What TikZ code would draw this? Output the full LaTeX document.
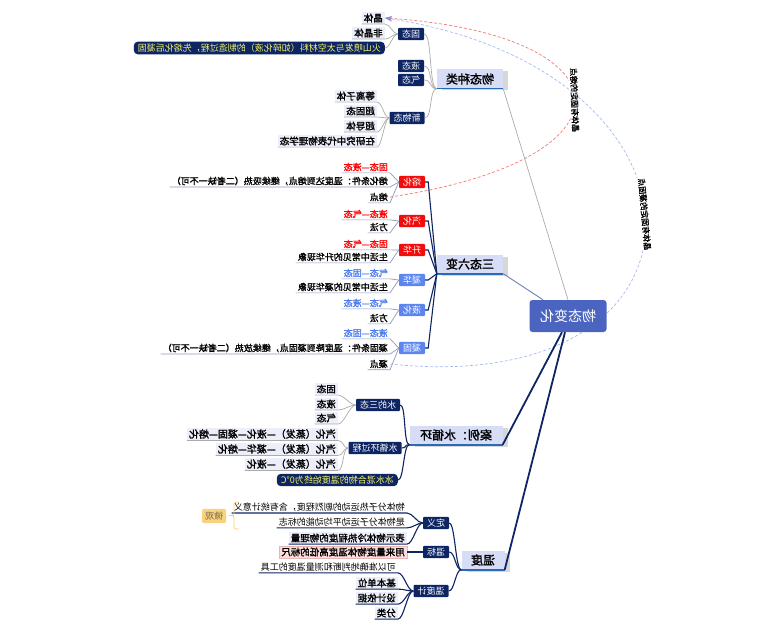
\documentclass[tikz,border=0pt]{standalone}
\usepackage{fontspec}
\setmainfont{Noto Sans CJK SC}[AutoFakeBold=1.6]
\usepackage{graphicx}
\usepackage{tikz}
\usetikzlibrary{positioning, arrows.meta, calc, shadows}
\pgfdeclarelayer{background}
\pgfsetlayers{background,main}
\definecolor{rootblue}{HTML}{4A64C0}
\definecolor{branchfill}{HTML}{D7DDF7}
\definecolor{branchline}{HTML}{2A6BB8}
\definecolor{navy}{HTML}{0E2563}
\definecolor{hotred}{HTML}{F20D0D}
\definecolor{skyblue}{HTML}{5C86EE}
\definecolor{leaffill}{HTML}{ECEEFA}
\definecolor{leafline}{HTML}{8C98BC}
\definecolor{linegrey}{HTML}{ABABAB}
\definecolor{lemon}{HTML}{F4F46A}
\definecolor{pinkfill}{HTML}{FCDCDC}
\definecolor{pinkline}{HTML}{E8B4B4}
\definecolor{goldfill}{HTML}{F8D27C}
\definecolor{goldtext}{HTML}{7A6A50}
\definecolor{redtext}{HTML}{FF0000}
\definecolor{bluetext}{HTML}{4C7CEC}
\definecolor{dashred}{HTML}{F07878}
\definecolor{dashblue}{HTML}{A6B8F2}
\definecolor{tippurple}{HTML}{8A8AE0}
\definecolor{slate}{HTML}{6C80B4}
\newcommand{\SizeAt}[1]{\fontsize{#1}{#1}\selectfont}
\newsavebox{\FlipBox}
\tikzset{
    mirrored/.style={execute at begin node={\begin{lrbox}{\FlipBox}},
                     execute at end node={\end{lrbox}\reflectbox{\usebox{\FlipBox}}}},
    rootbox/.style={fill=rootblue, text=white, rounded corners=3pt, font=\SizeAt{14pt}, minimum width=77pt, minimum height=32pt},
    branch/.style={fill=branchfill, font=\SizeAt{12pt}\bfseries, minimum width=66pt, minimum height=19pt, inner sep=2pt,
                   drop shadow={shadow xshift=5pt, shadow yshift=-2pt, fill=black!45, opacity=0.35}},
    darkbox/.style={fill=navy, text=white, font=\SizeAt{9pt}, inner xsep=4pt, inner ysep=2pt, rounded corners=1pt},
    redbox/.style={darkbox, fill=hotred},
    bluebox/.style={darkbox, fill=skyblue},
    yellowbox/.style={darkbox, anchor=east, text=lemon, rounded corners=4pt},
    leafbox/.style={anchor=east, fill=leaffill, font=\SizeAt{9.5pt}\bfseries, inner xsep=2pt, inner ysep=1.5pt},
    leaf/.style={anchor=east, font=\SizeAt{9pt}, inner xsep=2pt, inner ysep=1.5pt},
    boldleaf/.style={leaf, font=\SizeAt{9pt}\bfseries},
    redleaf/.style={boldleaf, text=redtext},
    blueleaf/.style={boldleaf, text=bluetext},
    pinkbox/.style={leafbox, fill=pinkfill, draw=pinkline, line width=0.5pt},
    goldbox/.style={fill=goldfill, text=goldtext, rounded corners=2pt, font=\SizeAt{9pt}, inner xsep=3pt, inner ysep=3pt},
    greyline/.style={draw=linegrey, line width=0.7pt},
    thinline/.style={draw=leafline, line width=0.7pt},
    navyline/.style={draw=navy, line width=1.1pt},
    slateline/.style={draw=slate, line width=0.9pt},
    navythick/.style={draw=navy, line width=1.8pt},
    underbar/.style={draw=branchline, line width=1.6pt},
    curvelabel/.style={fill=white, text=black, font=\SizeAt{8pt}\bfseries, inner sep=1pt},
}

\begin{document}
\begin{tikzpicture}[x=1pt, y=-1pt, every node/.append style={mirrored}]
    \useasboundingbox (0,0) rectangle (760,631);

    % centre and main branches
    \node[rootbox] (root) at (568,316) {物态变化};
    \node[branch] (kinds) at (470,79) {物态种类};
    \node[branch] (change) at (470,264) {三态六变};
    \node[branch, minimum width=93pt] (water) at (456,435) {案例：水循环};
    \node[branch, minimum width=43pt] (temp) at (483,560) {温度};
    \foreach \b in {kinds, change, water, temp}
        \draw[underbar] (\b.south west) -- (\b.south east);

    \draw[greyline] (root.north) -- (kinds.south east);
    \draw[slateline] ($(root.north)+(-25,0)$) -- (change.south east);
    \draw[navythick] ($(root.south)+(-6,0)$) -- (water.south east);
    \draw[navythick] ($(root.south)+(-3,0)$) -- (temp.south east);

    % kinds of states
    \node[darkbox] (solid) at (411,34) {固态};
    \node[darkbox] (liquid) at (411,66) {液态};
    \node[darkbox] (gas) at (411,80) {气态};
    \node[darkbox] (newstate) at (407,118) {新物态};
    \node[leafbox] (crystal) at (385,18) {晶体};
    \node[leafbox] (amorph) at (385,33) {非晶体};
    \node[yellowbox] (volcano) at (385,48) {火山喷发与太空材料（如碎化液）的制造过程，先熔化后凝固};
    \node[leafbox] (plasma) at (377,96) {等离子体};
    \node[leafbox] (supersolid) at (377,111) {超固态};
    \node[leafbox] (superfluid) at (377,126) {超导体};
    \node[leafbox] (research) at (377,141) {在研究中代表物理学态};

    \foreach \c in {solid, liquid, gas, newstate}
        \draw[greyline] (kinds.south west) .. controls +(-8,0) and +(8,0) .. (\c.east);
    \foreach \c in {crystal, amorph}
        \draw[greyline] (solid.west) .. controls +(-5,0) and +(5,0) .. (\c.south east) -- (\c.south west);
    \draw[greyline] (solid.west) .. controls +(-5,0) and +(5,0) .. (volcano.east);
    \foreach \c in {plasma, supersolid, superfluid, research}
        \draw[greyline] (newstate.west) .. controls +(-5,0) and +(5,0) .. (\c.south east) -- (\c.south west);

    % three states, six changes
    \node[redbox] (melt) at (412,182) {熔化};
    \node[redbox] (vapor) at (412,221) {汽化};
    \node[redbox] (sublim) at (412,250) {升华};
    \node[bluebox] (desub) at (412,280) {凝华};
    \node[bluebox] (liquefy) at (412,310) {液化};
    \node[bluebox] (freeze) at (412,348) {凝固};
    \foreach \c in {melt, vapor, sublim, desub, liquefy, freeze}
        \draw[navyline] (\c.east) -- ++(3,0) -- (change.south west);

    \node[redleaf] (meltA) at (390,167) {固态—液态};
    \node[boldleaf] (meltB) at (390,181) {熔化条件：温度达到熔点，继续吸热（二者缺一不可）};
    \node[boldleaf] (meltC) at (390,197) {熔点};
    \node[redleaf] (vaporA) at (390,214) {液态—气态};
    \node[boldleaf] (vaporB) at (390,227) {方法};
    \node[redleaf] (sublimA) at (390,244) {固态—气态};
    \node[boldleaf] (sublimB) at (390,257) {生活中常见的升华现象};
    \node[blueleaf] (desubA) at (390,273) {气态—固态};
    \node[boldleaf] (desubB) at (390,287) {生活中常见的凝华现象};
    \node[blueleaf] (liquefyA) at (390,303) {气态—液态};
    \node[boldleaf] (liquefyB) at (390,318) {方法};
    \node[blueleaf] (freezeA) at (390,333) {液态—固态};
    \node[boldleaf] (freezeB) at (390,348) {凝固条件：温度降到凝固点，继续放热（二者缺一不可）};
    \node[boldleaf] (freezeC) at (390,364) {凝点};

    \draw[thinline] (melt.west) -- (meltA.south east) -- (meltA.south west);
    \draw[thinline] (melt.west) -- (meltB.south east) -- (meltB.south west);
    \draw[thinline] (melt.west) -- (meltC.south east) -- (meltC.south west);
    \draw[thinline] (vapor.west) -- (vaporA.south east) -- (vaporA.south west);
    \draw[thinline] (vapor.west) -- (vaporB.south east) -- (vaporB.south west);
    \draw[thinline] (sublim.west) -- (sublimA.south east) -- (sublimA.south west);
    \draw[thinline] (sublim.west) -- (sublimB.south east) -- (sublimB.south west);
    \draw[thinline] (desub.west) -- (desubA.south east) -- (desubA.south west);
    \draw[thinline] (desub.west) -- (desubB.south east) -- (desubB.south west);
    \draw[thinline] (liquefy.west) -- (liquefyA.south east) -- (liquefyA.south west);
    \draw[thinline] (liquefy.west) -- (liquefyB.south east) -- (liquefyB.south west);
    \draw[thinline] (freeze.west) -- (freezeA.south east) -- (freezeA.south west);
    \draw[thinline] (freeze.west) -- (freezeB.south east) -- (freezeB.south west);
    \draw[thinline] (freeze.west) -- (freezeC.south east) -- (freezeC.south west);

    % melting and freezing points of crystals
    \begin{pgfonlayer}{background}
    \draw[dashred, dash pattern=on 3pt off 2pt, line width=0.7pt, -{Stealth[length=7pt, width=5pt, color=tippurple]}]
        (meltC.east) .. controls (640,160) and (634,35) .. (crystal.east)
        node[pos=0.5, sloped, curvelabel] {晶体有固定的熔点};
    \draw[dashblue, dash pattern=on 3pt off 2pt, line width=0.7pt, -{Stealth[length=7pt, width=5pt, color=tippurple]}]
        (freezeC.east) .. controls (731,400) and (731,71) .. (crystal.east)
        node[pos=0.52, sloped, curvelabel] {晶体有固定的凝固点};
    \end{pgfonlayer}

    % water cycle
    \node[darkbox] (phases) at (378,405) {水的三态};
    \node[darkbox] (cycle) at (375,448) {水循环过程};
    \node[yellowbox] (icewater) at (398,480) {冰水混合物的温度始终为0℃};
    \node[leafbox] (wsolid) at (338,389) {固态};
    \node[leafbox] (wliquid) at (338,404) {液态};
    \node[leafbox] (wgas) at (338,418) {气态};
    \node[leafbox, font=\SizeAt{10pt}\bfseries] (routeA) at (338,434) {汽化（蒸发）—液化—凝固—熔化};
    \node[leafbox, font=\SizeAt{10pt}\bfseries] (routeB) at (338,449) {汽化（蒸发）—凝华—熔化};
    \node[leafbox, font=\SizeAt{10pt}\bfseries] (routeC) at (338,464) {汽化（蒸发）—液化};

    \foreach \c in {phases, cycle, icewater}
        \draw[navyline] (water.south west) .. controls +(-6,0) and +(6,0) .. (\c.east);
    \foreach \c in {wsolid, wliquid, wgas}
        \draw[greyline] (phases.west) .. controls +(-6,0) and +(6,0) .. (\c.south east) -- (\c.south west);
    \foreach \c in {routeA, routeB, routeC}
        \draw[greyline] (cycle.west) .. controls +(-6,0) and +(6,0) .. (\c.south east) -- (\c.south west);

    % temperature
    \node[darkbox] (define) at (436,523) {定义};
    \node[darkbox] (scale) at (436,552) {温标};
    \node[darkbox] (meter) at (431,591) {温度计};
    \node[leaf] (defA) at (407,507) {物体分子热运动的剧烈程度，含有统计意义};
    \node[leaf] (defB) at (407,522) {是物体分子运动平均动能的标志};
    \node[leafbox] (defC) at (407,538) {表示物体冷热程度的物理量};
    \node[pinkbox] (scaleA) at (407,552) {用来量度物体温度高低的标尺};
    \node[leaf] (meterA) at (398,567) {可以准确地判断和测量温度的工具};
    \node[leafbox] (meterB) at (398,583) {基本单位};
    \node[leafbox] (meterC) at (398,598) {设计依据};
    \node[leafbox] (meterD) at (398,613) {分类};
    \node[goldbox] (micro) at (214,516) {微观};

    \foreach \c in {define, scale, meter}
        \draw[navyline] (temp.south west) .. controls +(-6,0) and +(6,0) .. (\c.east);
    \foreach \c in {defA, defB, defC}
        \draw[navyline] (define.west) .. controls +(-6,0) and +(6,0) .. (\c.south east) -- (\c.south west);
    \draw[navyline] (scale.west) .. controls +(-6,0) and +(6,0) .. (scaleA.east);
    \foreach \c in {meterA, meterB, meterC, meterD}
        \draw[navyline] (meter.west) .. controls +(-6,0) and +(6,0) .. (\c.south east) -- (\c.south west);
    \draw[goldfill, line width=0.8pt] (239,502) .. controls (234,502) .. (234,507) -- (234,511)
        .. controls (234,515.5) .. (229,515.5) .. controls (234,515.5) .. (234,520) -- (234,524)
        .. controls (234,529) .. (239,529);
\end{tikzpicture}
\end{document}
